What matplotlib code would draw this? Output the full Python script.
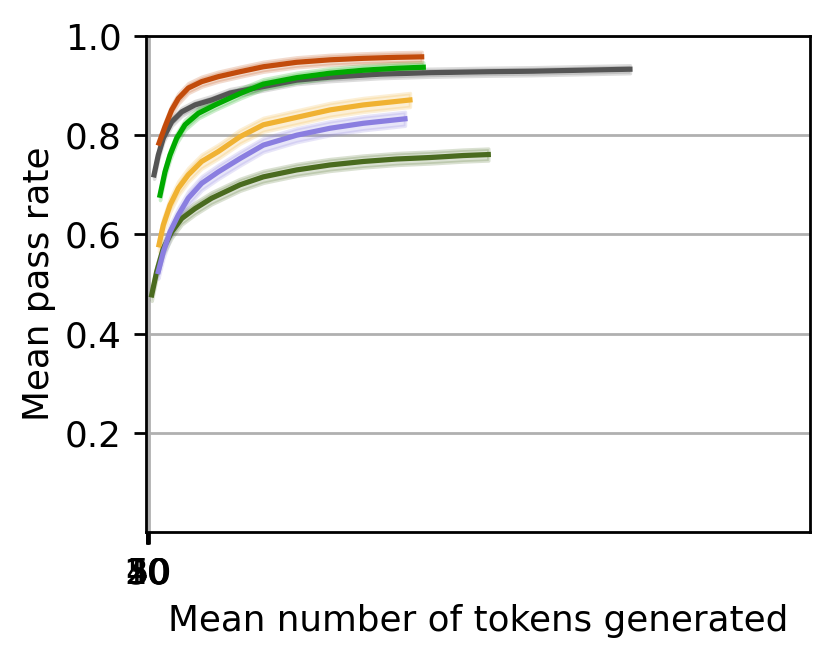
import matplotlib
matplotlib.use("Agg")
import matplotlib.pyplot as plt
import numpy as np

# Data (x: mean tokens generated, y: mean pass rate)
darkgreen_x = [103, 193, 313, 464, 645, 885, 1187, 1699, 2120, 2723, 3325, 3927, 4530, 5132, 5734, 6186]
darkgreen_y = [0.478, 0.525, 0.572, 0.605, 0.632, 0.652, 0.673, 0.700, 0.716, 0.730, 0.740, 0.747,
               0.752, 0.755, 0.759, 0.761]

purple_x = [222, 313, 434, 584, 764, 1006, 1306, 1699, 2120, 2723, 3325, 3927, 4680]
purple_y = [0.525, 0.565, 0.605, 0.639, 0.673, 0.703, 0.726, 0.753, 0.780, 0.800, 0.814, 0.824, 0.833]

yellow_x = [235, 313, 434, 584, 764, 1006, 1306, 1699, 2120, 2723, 3325, 3927, 4770]
yellow_y = [0.579, 0.619, 0.659, 0.693, 0.720, 0.747, 0.767, 0.797, 0.821, 0.836, 0.851, 0.861, 0.871]

gray_x = [145, 222, 313, 464, 645, 885, 1187, 1518, 2723, 3325, 4228, 5132, 6216, 6993, 8746]
gray_y = [0.720, 0.760, 0.794, 0.827, 0.847, 0.861, 0.871, 0.885, 0.911, 0.917, 0.923, 0.926,
          0.928, 0.929, 0.933]

green_x = [253, 343, 434, 555, 705, 945, 1247, 1699, 2120, 2723, 3325, 3927, 4530, 5011]
green_y = [0.679, 0.726, 0.760, 0.794, 0.821, 0.844, 0.861, 0.884, 0.903, 0.916, 0.925, 0.931,
           0.935, 0.937]

orange_x = [235, 343, 464, 584, 764, 1006, 1306, 1699, 2120, 2723, 3325, 3927, 4530, 4982]
orange_y = [0.784, 0.817, 0.851, 0.874, 0.895, 0.908, 0.918, 0.928, 0.938, 0.947, 0.952, 0.955,
            0.957, 0.958]

band = {"darkgreen": 0.012, "purple": 0.014, "yellow": 0.014,
        "gray": 0.008, "green": 0.010, "orange": 0.010}

xticks = [10, 20, 30, 40, 50]
yticks = [0.2, 0.4, 0.6, 0.8, 1.0]

series = [
    ("darkgreen", darkgreen_x, darkgreen_y, "#4a6b1f"),
    ("purple", purple_x, purple_y, "#8a7ee0"),
    ("yellow", yellow_x, yellow_y, "#f0b232"),
    ("gray", gray_x, gray_y, "#555555"),
    ("green", green_x, green_y, "#00aa00"),
    ("orange", orange_x, orange_y, "#c24b0b"),
]

plt.rcParams["font.size"] = 10.3

fig = plt.figure(figsize=(831 / 250, 654 / 250), dpi=250)
ax = fig.add_axes([146 / 831, 1 - 532 / 654, (810 - 146) / 831, (532 - 36) / 654])

for name, xs, ys, c in series:
    xs = np.array(xs, dtype=float)
    ys = np.array(ys, dtype=float)
    b = band[name]
    ax.fill_between(xs, ys - b, ys + b, color=c, alpha=0.2)
    ax.plot(xs, ys, color=c, lw=1.5)

ax.set_xlim(0, 12000)
ax.set_ylim(0, 1.0)
ax.set_xticks(xticks)
ax.set_xticklabels([str(t) for t in xticks])
ax.set_yticks(yticks)
ax.grid(True, color="#b0b0b0", lw=0.8)
ax.set_axisbelow(True)
ax.set_xlabel("Mean number of tokens generated")
ax.set_ylabel("Mean pass rate", labelpad=2.5)

fig.savefig("out.png", dpi=250)
